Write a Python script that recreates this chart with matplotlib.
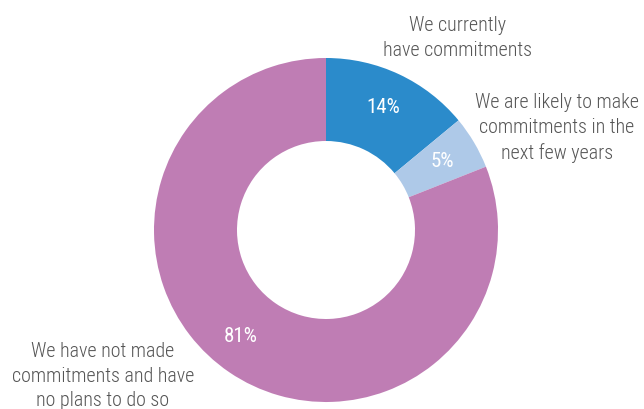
import matplotlib
matplotlib.use("Agg")
import matplotlib.pyplot as plt

plt.rcParams['font.family'] = ['Roboto Condensed', 'Roboto', 'DejaVu Sans']

categories = ["We currently\nhave commitments",
              "We are likely to make\ncommitments in the\nnext few years",
              "We have not made\ncommitments and have\nno plans to do so"]
shares = [14, 5, 81]
colors = ["#2b8bcb", "#aec9e8", "#bf7db4"]

fig = plt.figure(figsize=(6.44, 4.09), dpi=100)
ax = fig.add_axes([0, 0, 1, 1])

wedges, texts, autotexts = ax.pie(
    shares, colors=colors, startangle=90, counterclock=False,
    center=(326, 179), radius=172, frame=True,
    wedgeprops=dict(width=83, linewidth=0),
    autopct="%d%%", pctdistance=0.785,
    textprops=dict(color="white", fontsize=15, fontweight="normal"))
ax.set_xlim(0, 644)
ax.set_ylim(0, 409)
ax.set_aspect("equal")
ax.axis("off")

# nudge the large-slice label a little toward the lower left
autotexts[2].set_position((241, 409 - 336))

label_pos = [(458, 409 - 38), (557, 409 - 128), (103, 409 - 376)]
for text, (x, y) in zip(categories, label_pos):
    ax.text(x, y, text, ha="center", va="center", color="#555555",
            fontsize=14.4, fontweight="light", linespacing=1.36)

fig.savefig("out.png", dpi=100)
